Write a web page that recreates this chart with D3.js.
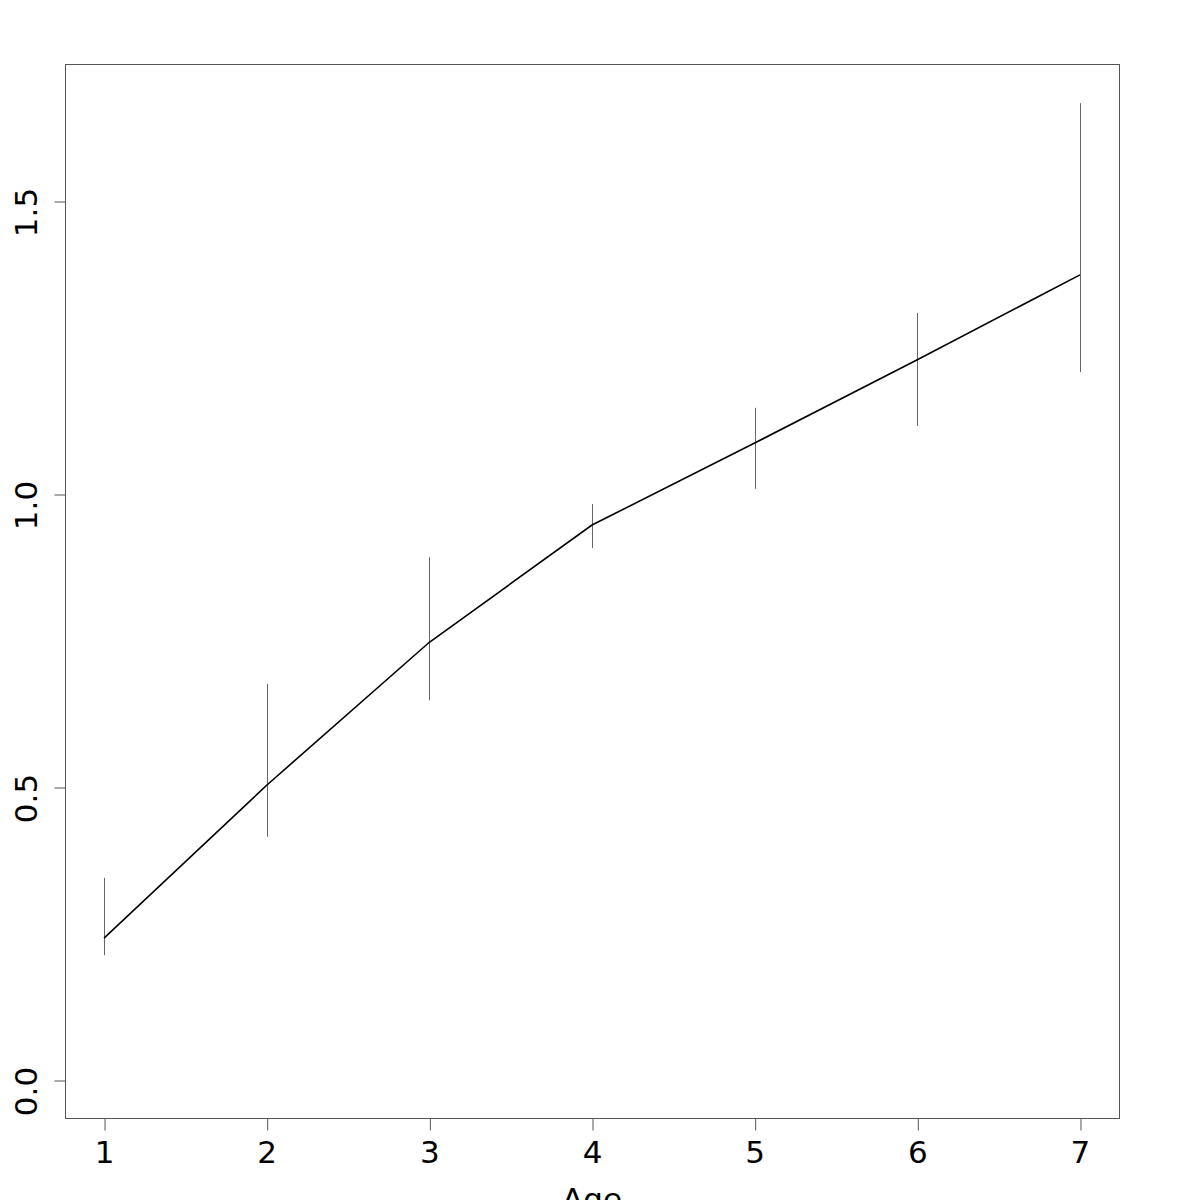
<!DOCTYPE html>
<html><head><meta charset="utf-8">
<script src="https://cdn.jsdelivr.net/npm/d3@7"></script>
<style>body{margin:0;background:#fff}</style>
</head><body>
<svg id="c" width="1200" height="1200"></svg>
<script>
const ages = [1, 2, 3, 4, 5, 6, 7];
const means = [0.242, 0.503, 0.747, 0.947, 1.087, 1.229, 1.374];
const lower = [0.213, 0.415, 0.648, 0.908, 1.009, 1.116, 1.208];
const upper = [0.345, 0.676, 0.892, 0.983, 1.147, 1.309, 1.667];
const yTicks = [0, 0.5, 1.0, 1.5];
const yTickLabels = ["0.0", "0.5", "1.0", "1.5"];
const xLabel = "Age";

const svg = d3.select("#c");
const L = 65, R = 1119, T = 64, B = 1118;
const x = d3.scaleLinear().domain([0.76, 7.24]).range([L, R]);
const y = d3.scaleLinear().domain([0, 1.5]).range([1080, 201]);
const font = "DejaVu Sans, sans-serif";
const fs = 31;

svg.append("rect").attr("x", L + 0.5).attr("y", T + 0.5).attr("width", R - L).attr("height", B - T)
  .attr("fill", "none").attr("stroke", "#555").attr("stroke-width", 1);

const xa = svg.append("g").attr("transform", `translate(0,${B + 0.5})`)
  .call(d3.axisBottom(x).tickValues(ages).tickFormat(d3.format("d")).tickSize(12).tickPadding(10));
xa.select(".domain").remove();
xa.selectAll("line").attr("stroke", "#555").attr("transform", "translate(0.5,0)");
xa.selectAll("text").attr("font-family", font).attr("font-size", fs).attr("fill", "#000");

const ya = svg.append("g").attr("transform", `translate(${L + 0.5},0)`)
  .call(d3.axisLeft(y).tickValues(yTicks).tickFormat((d, i) => yTickLabels[i]).tickSize(11).tickPadding(0));
ya.select(".domain").remove();
ya.selectAll("line").attr("stroke", "#555").attr("transform", "translate(0,0.5)");
ya.selectAll("text").attr("font-family", font).attr("font-size", fs).attr("fill", "#000")
  .attr("text-anchor", "middle").attr("dy", null)
  .attr("transform", "translate(-28.5,0) rotate(-90)");

svg.append("g").selectAll("line").data(ages).join("line")
  .attr("x1", d => Math.round(x(d)) + 0.5).attr("x2", d => Math.round(x(d)) + 0.5)
  .attr("y1", (d, i) => y(lower[i])).attr("y2", (d, i) => y(upper[i]))
  .attr("stroke", "#666").attr("stroke-width", 1);

svg.append("path").datum(ages)
  .attr("d", d3.line().x(d => x(d)).y((d, i) => y(means[i])))
  .attr("fill", "none").attr("stroke", "#000").attr("stroke-width", 1.6);

svg.append("text").attr("x", (L + R) / 2).attr("y", 1210).attr("text-anchor", "middle")
  .attr("font-family", font).attr("font-size", fs).text(xLabel);
</script>
</body></html>
